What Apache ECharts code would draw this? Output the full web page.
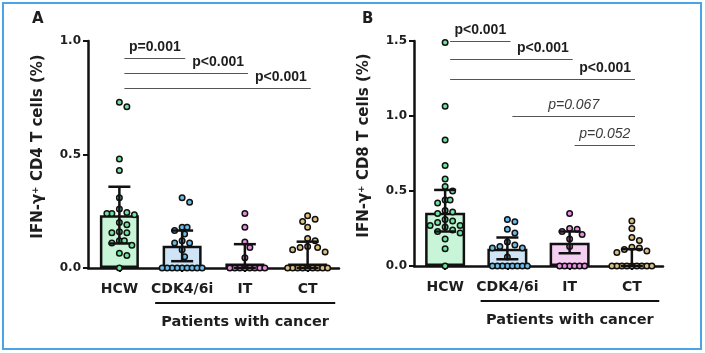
<!DOCTYPE html>
<html>
<head>
<meta charset="utf-8">
<script src="https://cdn.jsdelivr.net/npm/echarts@6/dist/echarts.min.js"></script>
<style>
  body { margin: 0; background: #fff; }
  #frame { position: absolute; left: 2px; top: 2px; width: 700px; height: 348px; border: 2px solid #4aa5e6; box-sizing: border-box; }
  #chart { position: absolute; left: 0; top: 0; width: 705px; height: 353px; }
</style>
</head>
<body>
<div id="frame"></div>
<div id="chart"></div>
<script>
const groups = ['HCW', 'CDK4/6i', 'IT', 'CT'];

// panel A: IFN-g+ CD4 T cells (%)
const cd4Hcw = [0.73, 0.71, 0.48, 0.43, 0.31, 0.26, 0.245, 0.24, 0.24, 0.235, 0.2, 0.19, 0.16, 0.155, 0.155, 0.12, 0.12, 0.11, 0.1, 0.065, 0.055, 0];
const cd4Cdk = [0.31, 0.29, 0.18, 0.18, 0.165, 0.15, 0.12, 0.11, 0.11, 0.08, 0.05, 0, 0, 0, 0, 0, 0, 0, 0, 0];
const cd4It = [0.24, 0.18, 0.115, 0.09, 0.045, 0, 0, 0, 0, 0, 0, 0, 0];
const cd4Ct = [0.23, 0.215, 0.205, 0.18, 0.13, 0.12, 0.095, 0.09, 0.09, 0.08, 0.07, 0, 0, 0, 0, 0, 0, 0, 0, 0];
const cd4Mean = [0.232, 0.098, 0.02, 0.02];
const cd4Low = [0.108, 0.03, 0, 0];
const cd4High = [0.358, 0.165, 0.105, 0.116];
// [from, to, level, text]
const cd4Sig = [[0, 1, 0.925, 'p=0.001'], [0, 2, 0.859, 'p<0.001'], [0, 3, 0.791, 'p<0.001']];

// panel B: IFN-g+ CD8 T cells (%)
const cd8Hcw = [1.49, 1.065, 0.84, 0.67, 0.58, 0.53, 0.5, 0.44, 0.44, 0.42, 0.37, 0.36, 0.35, 0.31, 0.3, 0.29, 0.27, 0.27, 0.26, 0.24, 0.23, 0.22, 0.18, 0.115, 0];
const cd8Cdk = [0.31, 0.295, 0.245, 0.22, 0.16, 0.14, 0.13, 0.12, 0.12, 0.06, 0, 0, 0, 0, 0, 0, 0, 0];
const cd8It = [0.35, 0.25, 0.245, 0.23, 0.21, 0.18, 0.13, 0, 0, 0, 0, 0, 0];
const cd8Ct = [0.3, 0.25, 0.19, 0.17, 0.125, 0.12, 0.11, 0.1, 0.09, 0, 0, 0, 0, 0, 0, 0, 0, 0];
const cd8Mean = [0.355, 0.115, 0.155, 0.02];
const cd8Low = [0.23, 0.045, 0.085, 0];
const cd8High = [0.507, 0.19, 0.23, 0.112];
const cd8Sig = [[0, 1, 1.5, 'p<0.001'], [0, 2, 1.378, 'p<0.001'], [0, 3, 1.247, 'p<0.001'], [1, 3, 0.998, 'p=0.067'], [2, 3, 0.807, 'p=0.052']];

const barFill = ['#c8f5d8', '#cfe5f7', '#f5cff2', '#f3e7c9'];
const dotFill = ['#6fe3a0', '#6bbbe9', '#e68fe2', '#dcc182'];
const ink = '#1e1e1e';
const FONT = 'DejaVu Sans';

// simple beeswarm: offsets in category units, worked out in pixels
// equal values may overlap a little (rows of zeros)
function swarm(vals, pxX, pxY) {
  const placed = [];
  return vals.map(v => {
    const y = v * pxY;
    let dx = 0;
    for (let k = 0; k < 80; k++) {
      dx = (k % 2 ? 1 : -1) * Math.ceil(k / 2) * 2.5;
      const ok = placed.every(p => {
        const minD = p[2] === v ? 4.6 : 7;
        return Math.hypot(p[0] - dx, p[1] - y) >= minD;
      });
      if (ok) break;
    }
    placed.push([dx, y, v]);
    return dx / pxX;
  });
}

function dotSeries(vals, gi, xi, yi, pxX, pxY) {
  const offs = swarm(vals, pxX, pxY);
  return {
    type: 'scatter', xAxisIndex: xi, yAxisIndex: yi, z: 3, clip: false,
    symbolSize: 5.5, itemStyle: { color: dotFill[gi], borderColor: '#111', borderWidth: 1.5, opacity: 1 },
    data: vals.map((v, k) => [gi + offs[k], v])
  };
}

function barSeries(means, xi, yi, w) {
  return {
    type: 'bar', xAxisIndex: xi, yAxisIndex: yi, z: 2, barWidth: w,
    itemStyle: { borderColor: '#111', borderWidth: 2.5 },
    data: means.map((v, i) => ({ value: v, itemStyle: { color: barFill[i] } }))
  };
}

function errSeries(low, high, xi, yi) {
  return {
    type: 'custom', xAxisIndex: xi, yAxisIndex: yi, z: 5,
    data: low.map((v, i) => [i, v, high[i]]),
    renderItem: (params, api) => {
      const lo = api.coord([api.value(0), api.value(1)]);
      const hi = api.coord([api.value(0), api.value(2)]);
      const w = 11, st = { stroke: '#111', lineWidth: 2.5 };
      return { type: 'group', children: [
        { type: 'line', shape: { x1: lo[0], y1: lo[1], x2: hi[0], y2: hi[1] }, style: st },
        { type: 'line', shape: { x1: hi[0] - w, y1: hi[1], x2: hi[0] + w, y2: hi[1] }, style: st },
        { type: 'line', shape: { x1: lo[0] - w, y1: lo[1], x2: lo[0] + w, y2: lo[1] }, style: st }
      ] };
    }
  };
}

// significance brackets as a markLine on an empty scatter
function sigSeries(sig, place, xi, yi) {
  return {
    type: 'scatter', xAxisIndex: xi, yAxisIndex: yi, data: [], z: 4,
    markLine: {
      silent: true, symbol: 'none', animation: false,
      lineStyle: { color: '#555', width: 1, type: 'solid' },
      data: sig.map((s, k) => {
        const it = place[k] === 'mid-i';
        return [
          { coord: [s[0] + 0.08, s[2]],
            label: { show: true, formatter: s[3], position: place[k] === 'end' ? 'insideEndTop' : 'insideMiddleTop',
              distance: 4, fontFamily: 'Liberation Sans', fontSize: 14,
              fontWeight: it ? 'normal' : 'bold', fontStyle: it ? 'italic' : 'normal', color: it ? '#3a3a3a' : ink } },
          { coord: [s[1] + 0.05, s[2]] }
        ];
      })
    }
  };
}

function catAxis(gi) {
  return {
    type: 'category', gridIndex: gi, data: groups,
    axisLine: { onZero: false, lineStyle: { color: '#111', width: 2.5 } },
    axisTick: { show: true, alignWithLabel: true, length: 4, lineStyle: { color: '#111', width: 2 } },
    axisLabel: { interval: 0, fontFamily: FONT, fontWeight: 'bold', fontSize: 14, color: ink, margin: 14 }
  };
}

function valAxis(gi, max, name) {
  return {
    type: 'value', gridIndex: gi, min: 0, max: max, interval: 0.5,
    name: name, nameLocation: 'middle', nameGap: 42, nameRotate: 90,
    nameTextStyle: { fontFamily: FONT, fontWeight: 'bold', fontSize: 15, color: ink, padding: [0, 0, 0, 16],
      rich: { sup: { fontFamily: FONT, fontWeight: 'bold', fontSize: 9, color: ink, verticalAlign: 'top' } } },
    axisLine: { show: true, onZero: false, lineStyle: { color: '#111', width: 2.5 } },
    axisTick: { show: true, length: 5, lineStyle: { color: '#111', width: 2 } },
    axisLabel: { formatter: v => v.toFixed(1), fontFamily: FONT, fontWeight: 'bold', fontSize: 12, color: ink, margin: 7 },
    splitLine: { show: false }
  };
}

const gridA = { left: 88, top: 41, width: 251, height: 227, outerBoundsMode: 'none' };
const gridB = { left: 414, top: 41, width: 249, height: 225, outerBoundsMode: 'none' };
const pxA = [251 / 4, 227], pxB = [249 / 4, 150];

const option = {
  animation: false,
  grid: [gridA, gridB],
  xAxis: [
    catAxis(0), { type: 'value', gridIndex: 0, min: -0.5, max: 3.5, show: false },
    catAxis(1), { type: 'value', gridIndex: 1, min: -0.5, max: 3.5, show: false }
  ],
  yAxis: [
    valAxis(0, 1.0, 'IFN-γ{sup|+} CD4 T cells (%)'),
    valAxis(1, 1.5, 'IFN-γ{sup|+} CD8 T cells (%)')
  ],
  series: [
    barSeries(cd4Mean, 0, 0, 39),
    ...[cd4Hcw, cd4Cdk, cd4It, cd4Ct].map((d, i) => dotSeries(d, i, 1, 0, pxA[0], pxA[1])),
    errSeries(cd4Low, cd4High, 0, 0),
    sigSeries(cd4Sig, ['mid', 'end', 'end'], 1, 0),
    barSeries(cd8Mean, 2, 1, 40),
    ...[cd8Hcw, cd8Cdk, cd8It, cd8Ct].map((d, i) => dotSeries(d, i, 3, 1, pxB[0], pxB[1])),
    errSeries(cd8Low, cd8High, 2, 1),
    sigSeries(cd8Sig, ['mid', 'end', 'end', 'mid-i', 'mid-i'], 3, 1)
  ]
};

const chart = echarts.init(document.getElementById('chart'));
chart.setOption(option);

// panel letters and the "Patients with cancer" group bar
function cancerGroup(xi, axisY) {
  const x1 = chart.convertToPixel({ xAxisIndex: xi }, 1 - 0.43);
  const x2 = chart.convertToPixel({ xAxisIndex: xi }, 3 + 0.44);
  return [
    { type: 'line', shape: { x1: x1, y1: axisY + 35, x2: x2, y2: axisY + 35 }, style: { stroke: '#111', lineWidth: 2 } },
    { type: 'text', x: (x1 + x2) / 2, y: axisY + 54,
      style: { text: 'Patients with cancer', fontFamily: FONT, fontWeight: 'bold', fontSize: 14.5, fill: ink, align: 'center', verticalAlign: 'middle' } }
  ];
}
chart.setOption({
  graphic: [
    { type: 'text', x: 32, y: 12, style: { text: 'A', fontFamily: FONT, fontWeight: 'bold', fontSize: 15, fill: ink } },
    { type: 'text', x: 362, y: 12, style: { text: 'B', fontFamily: FONT, fontWeight: 'bold', fontSize: 15, fill: ink } },
    ...cancerGroup(1, 268),
    ...cancerGroup(3, 266)
  ]
});
</script>
</body>
</html>
